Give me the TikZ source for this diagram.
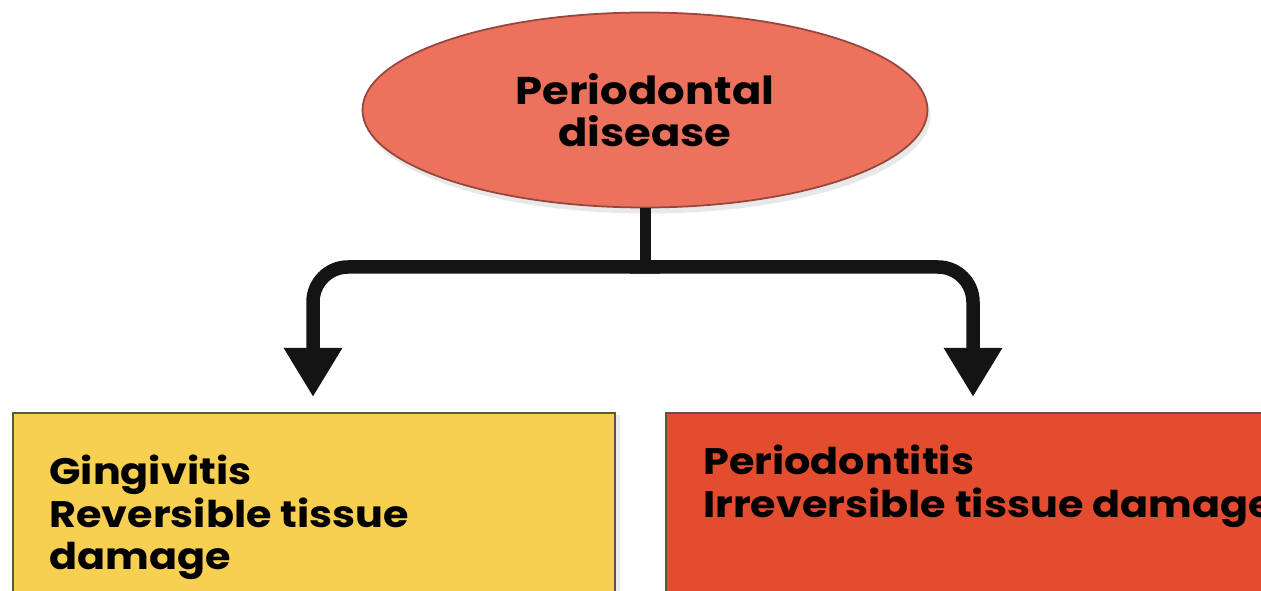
\documentclass[tikz,border=0pt]{standalone}
\usepackage{fontspec}
\setmainfont{Poppins}[FakeStretch=1.12]
\usetikzlibrary{shapes,arrows.meta,positioning,shadows}
\definecolor{ovalred}{RGB}{236,114,94}
\definecolor{ovalline}{RGB}{150,70,60}
\definecolor{gingyellow}{RGB}{247,208,82}
\definecolor{perired}{RGB}{228,76,48}
\definecolor{boxline}{RGB}{95,85,70}
\definecolor{linkblack}{RGB}{20,20,20}

\begin{document}
\begin{tikzpicture}[
    oval/.style={ellipse, draw=ovalline, line width=1pt, fill=ovalred, minimum width=11.3cm, minimum height=3.9cm, align=center, font=\bfseries\fontsize{22}{24}\selectfont, drop shadow={opacity=0.18, shadow xshift=0.06cm, shadow yshift=-0.12cm}},
    box/.style={rectangle, draw=boxline, line width=1pt, anchor=north west, minimum height=4cm, drop shadow={opacity=0.15, shadow xshift=0.1cm, shadow yshift=-0.05cm}},
    boxtext/.style={align=left, inner sep=0pt, font=\bfseries\fontsize{21}{24}\selectfont},
    stem/.style={line width=0.22cm, draw=linkblack},
    arrow/.style={-{Triangle[length=0.98cm, width=1.1cm]}, line width=0.27cm, draw=linkblack, rounded corners=0.7cm}
]
    \useasboundingbox (0,0) rectangle (25.22,11.8);

    \node[oval] (disease) at (12.9,9.6) {Periodontal\\disease};

    \node[box, fill=gingyellow, minimum width=12.04cm] (gingbox) at (0.24,3.56) {};
    \node[box, fill=perired, minimum width=13cm] (peribox) at (13.3,3.56) {};

    \node[boxtext, below right=0.86cm and 0.74cm of gingbox.north west] (gingtext) {Gingivitis\\Reversible tissue\\damage};
    \node[boxtext, below right=0.66cm and 0.76cm of peribox.north west] (peritext) {Periodontitis\\Irreversible tissue damage};

    \coordinate (fork) at (disease.south |- 0,6.46);
    \coordinate (tipL) at (6.26,3.86);
    \coordinate (tipR) at (19.46,3.86);

    \draw[stem] (disease.south) -- (fork);
    \draw[arrow] ([xshift=0.3cm]fork) -| (tipL);
    \draw[arrow] ([xshift=-0.3cm]fork) -| (tipR);
\end{tikzpicture}
\end{document}
